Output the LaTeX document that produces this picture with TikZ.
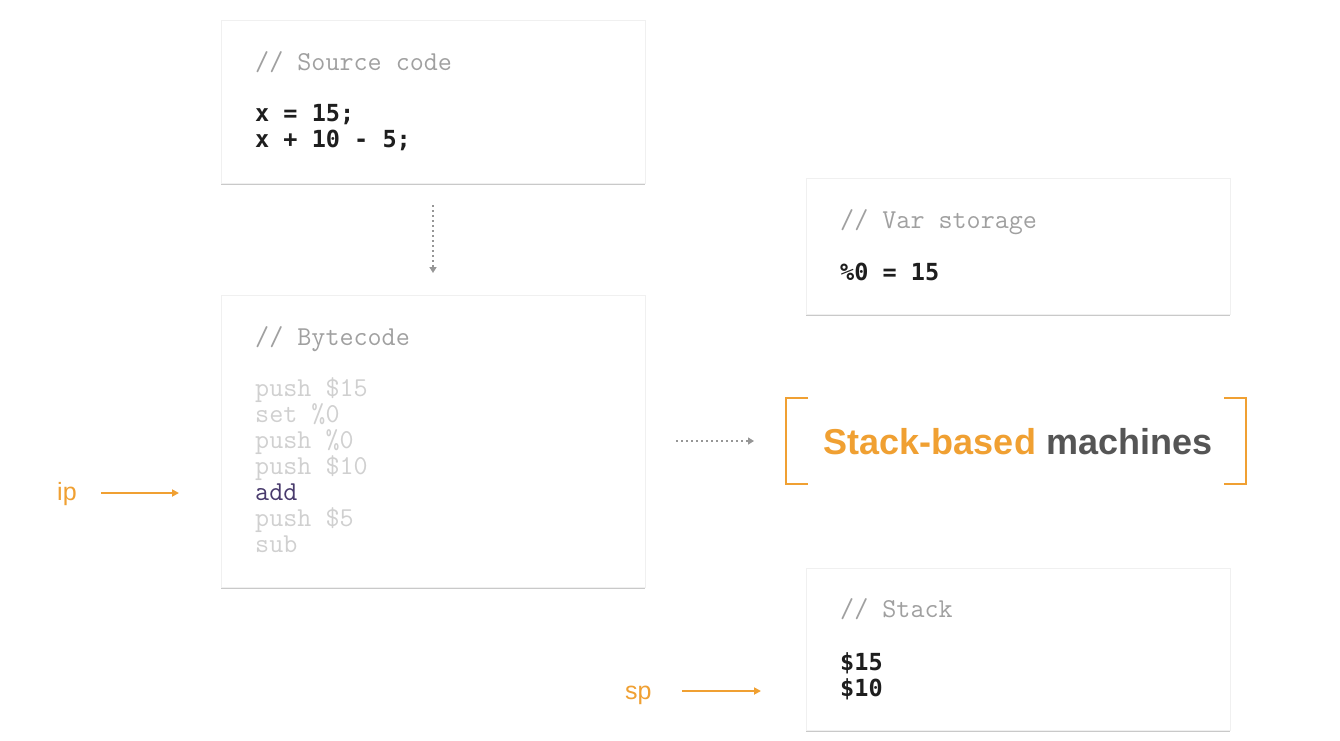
\documentclass[tikz,border=0pt]{standalone}
\usepackage{fontspec}
\setmainfont{Liberation Sans}
\newfontfamily\menlo{DejaVu Sans Mono}
\usetikzlibrary{arrows.meta,shadows}
\definecolor{orng}{RGB}{240,160,50}
\definecolor{darkg}{RGB}{85,85,85}
\definecolor{cmtg}{RGB}{160,160,160}
\definecolor{fadeg}{RGB}{208,208,208}
\definecolor{addp}{RGB}{72,58,108}
\definecolor{codek}{RGB}{30,30,30}
\definecolor{dotg}{RGB}{150,150,150}
\definecolor{edgeg}{RGB}{240,240,240}
\tikzset{
  card/.style={rectangle, fill=white, draw=edgeg, line width=0.6pt, inner sep=0pt, anchor=north west,
    drop shadow={shadow xshift=0pt, shadow yshift=-2pt, opacity=0.35, fill=black!60}},
  cmt/.style={font=\ttfamily\fontsize{27.3}{30}\selectfont, text=cmtg, inner sep=0pt, anchor=base west},
  code/.style={font=\menlo\bfseries\fontsize{23.5}{26}\selectfont, text=codek, inner sep=0pt, anchor=base west},
  bc/.style={font=\ttfamily\fontsize{27.3}{30}\selectfont, text=fadeg, inner sep=0pt, anchor=base west},
  ptr/.style={font=\fontsize{25}{28}\selectfont, text=orng, inner sep=0pt, anchor=base west},
  ptrarrow/.style={draw=orng, line width=1.8pt, -{Triangle[length=7pt,width=7pt]}},
  dotarrow/.style={draw=dotg, line width=1.6pt, dash pattern=on 2pt off 3pt, -{Triangle[length=6pt,width=7pt]}},
  bracket/.style={draw=orng, line width=2.6pt}
}
\begin{document}
\begin{tikzpicture}[x=1pt,y=-1pt]
\useasboundingbox (0,0) rectangle (1340,740);
\fill[white] (0,0) rectangle (1340,740);

% boxes
\node[card, minimum width=424pt, minimum height=163pt] (src) at (221,20) {};
\node[card, minimum width=424pt, minimum height=292pt] (byte) at (221,295) {};
\node[card, minimum width=424pt, minimum height=136pt] (vars) at (806,178) {};
\node[card, minimum width=424pt, minimum height=162pt] (stack) at (806,568) {};

% source code
\node[cmt] (srcc) at (255,70.5) {// Source code};
\node[code] (src1) at (255,121.5) {x = 15;};
\node[code] (src2) at (255,147.5) {x + 10 - 5;};

% bytecode
\node[cmt] (bytec) at (255,345) {// Bytecode};
\node[bc] (b1) at (255,396) {push \$15};
\node[bc] (b2) at (255,422) {set \%0};
\node[bc] (b3) at (255,448) {push \%0};
\node[bc] (b4) at (255,474) {push \$10};
\node[bc, text=addp] (b5) at (255,500) {add};
\node[bc] (b6) at (255,526) {push \$5};
\node[bc] (b7) at (255,552) {sub};

% var storage
\node[cmt] (varc) at (840,228) {// Var storage};
\node[code] (var1) at (840,280) {\%0 = 15};

% stack
\node[cmt] (stc) at (840,617) {// Stack};
\node[code] (st1) at (840,670) {\$15};
\node[code] (st2) at (840,696) {\$10};

% title with brackets
\node[font=\bfseries\fontsize{36}{40}\selectfont, inner sep=0pt, anchor=base] (title) at (1018,454)
  {\textcolor{orng}{Stack-based} \textcolor{darkg}{machines}};
\draw[bracket] (808,398) -- (786,398) -- (786,484) -- (808,484);
\draw[bracket] (1224,398) -- (1246,398) -- (1246,484) -- (1224,484);

% dotted arrows
\coordinate (d1s) at (433,205);
\coordinate (d1e) at (433,273);
\draw[dotarrow] (d1s) -- (d1e);
\coordinate (d2s) at (676,441);
\coordinate (d2e) at (754,441);
\draw[dotarrow] (d2s) -- (d2e);

% pointers
\node[ptr] (ip) at (57,500) {ip};
\coordinate (ips) at (101,493);
\coordinate (ipe) at (179,493);
\draw[ptrarrow] (ips) -- (ipe);
\node[ptr] (sp) at (625,699) {sp};
\coordinate (sps) at (682,691);
\coordinate (spe) at (761,691);
\draw[ptrarrow] (sps) -- (spe);
\end{tikzpicture}
\end{document}
